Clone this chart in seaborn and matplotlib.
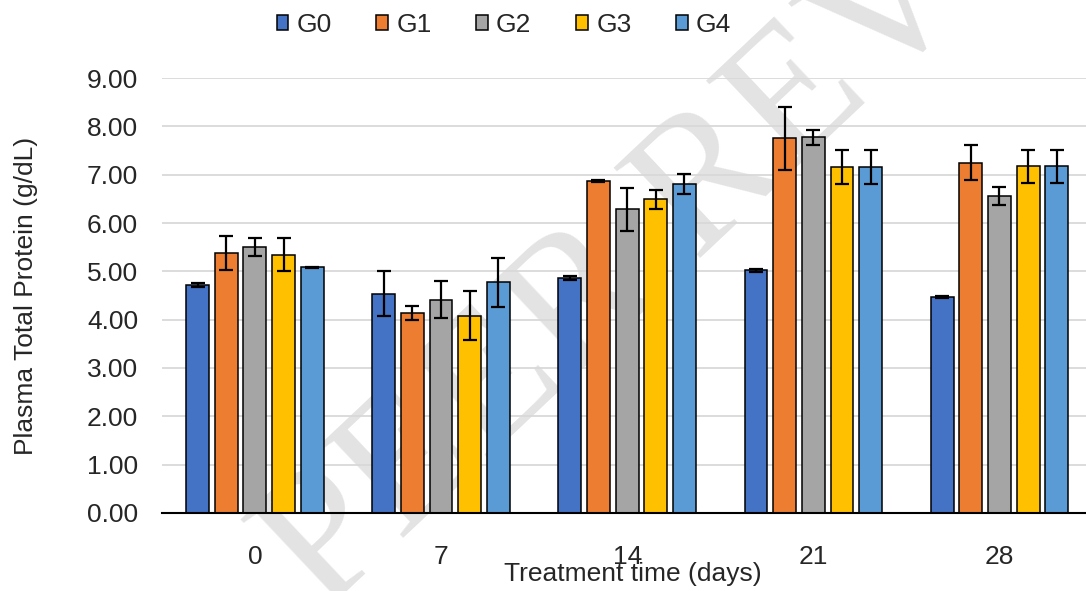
import numpy as np
import pandas as pd
import seaborn as sns
import matplotlib.pyplot as plt

days = ['0', '7', '14', '21', '28']
groups = ['G0', 'G1', 'G2', 'G3', 'G4']
colors = ['#4472C4', '#ED7D31', '#A5A5A5', '#FFC000', '#5B9BD5']

# mean plasma total protein (g/dL), one list per group across days
g0 = [4.72, 4.54, 4.87, 5.02, 4.47]
g1 = [5.38, 4.14, 6.87, 7.75, 7.25]
g2 = [5.50, 4.41, 6.28, 7.77, 6.56]
g3 = [5.34, 4.08, 6.49, 7.16, 7.17]
g4 = [5.08, 4.77, 6.81, 7.16, 7.17]

# error (+/-) per group across days
e0 = [0.04, 0.47, 0.04, 0.03, 0.03]
e1 = [0.36, 0.15, 0.02, 0.65, 0.36]
e2 = [0.18, 0.38, 0.44, 0.15, 0.18]
e3 = [0.34, 0.51, 0.20, 0.35, 0.34]
e4 = [0.01, 0.50, 0.20, 0.35, 0.34]

means = [g0, g1, g2, g3, g4]
errs = [e0, e1, e2, e3, e4]

rows = []
for g, m, e in zip(groups, means, errs):
    for d, v, s in zip(days, m, e):
        rows.append({'day': d, 'group': g, 'value': v, 'err': s})
df = pd.DataFrame(rows)

sns.set_style('white')
plt.rcParams['font.family'] = ['Liberation Sans', 'DejaVu Sans']
FS = 19

fig = plt.figure(figsize=(10.86, 5.91), dpi=100)
ax = fig.add_axes([0.149, 0.132, 0.857, 0.736])
ax.set_facecolor('none')

# faint watermark, sits behind the plot
fig.text(0.688, 0.745, 'PEER REVIEW', rotation=43.3, fontsize=137,
         family='Liberation Serif', color='#e3e3e3', ha='center', va='center',
         zorder=-1)

sns.barplot(data=df, x='day', y='value', hue='group', order=days,
            hue_order=groups, palette=colors, saturation=1, width=0.77, gap=0.2,
            edgecolor='black', linewidth=1.1, errorbar=None, ax=ax, zorder=3)

for cont, g in zip(ax.containers, groups):
    sub = df[df['group'] == g].set_index('day').loc[days]
    xs = [p.get_x() + p.get_width() / 2 for p in cont]
    ax.errorbar(xs, sub['value'], yerr=sub['err'], fmt='none', ecolor='black',
                elinewidth=1.6, capsize=4.7, capthick=1.6, zorder=4)

ax.set_xlim(-0.5, 4.5)
ax.set_ylim(0, 9)
ax.set_yticks(np.arange(0, 9.01, 1))
ax.set_yticklabels([f'{v:.2f}' for v in np.arange(0, 9.01, 1)])
ax.yaxis.grid(True, color='#d9d9d9', linewidth=1.3, zorder=0)
ax.set_axisbelow(True)
for s in ['left', 'right', 'top']:
    ax.spines[s].set_visible(False)
ax.spines['bottom'].set_color('black')
ax.spines['bottom'].set_linewidth(1.5)
ax.spines['bottom'].set_zorder(5)

ax.tick_params(axis='y', length=0, pad=17, labelsize=FS)
ax.tick_params(axis='x', length=0, pad=23, labelsize=FS)

ax.set_xlabel('Treatment time (days)', fontsize=FS)
ax.xaxis.set_label_coords(0.506, -0.112)
ax.set_ylabel('Plasma Total Protein (g/dL)', fontsize=FS)
ax.yaxis.set_label_coords(-0.133, 0.5)

handles, labels = ax.get_legend_handles_labels()
ax.legend(handles, labels, ncol=5, loc='center', bbox_to_anchor=(0.464, 0.958),
          bbox_transform=fig.transFigure, frameon=False, fontsize=FS,
          handlelength=0.45, handleheight=0.45, handletextpad=0.3,
          columnspacing=1.7)

plt.savefig('out.png', dpi=100)
